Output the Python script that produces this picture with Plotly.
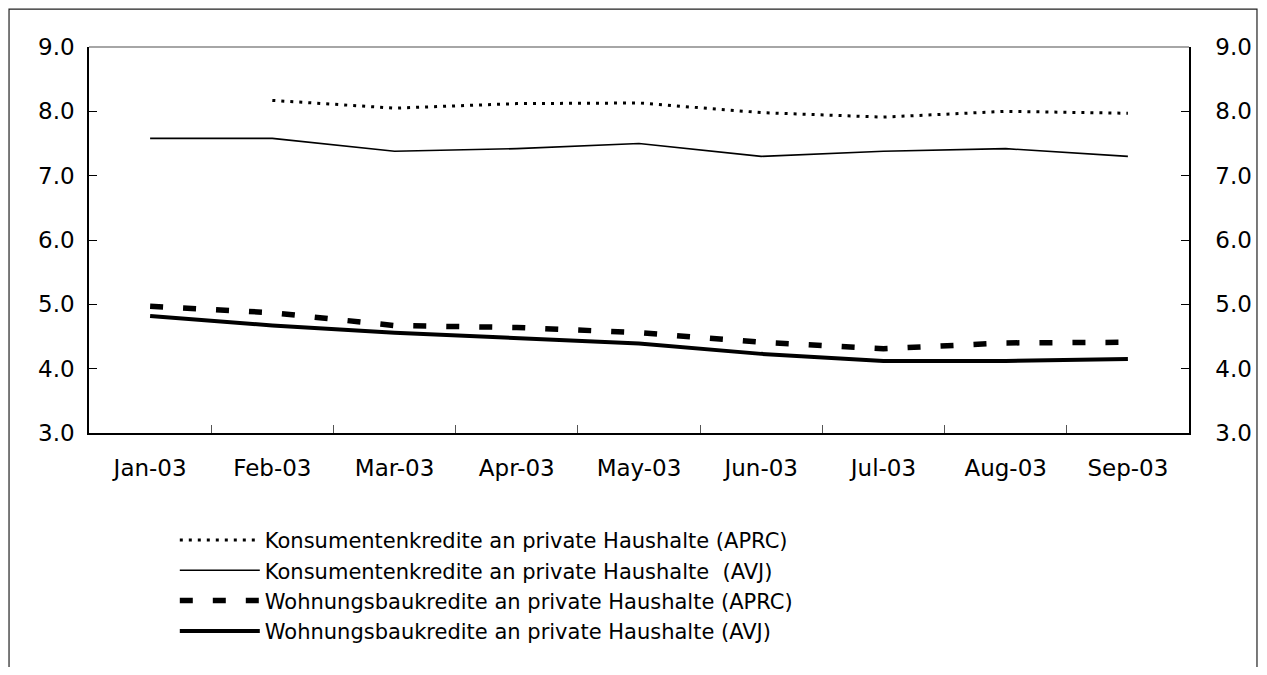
import plotly.graph_objects as go

months = ["Jan-03", "Feb-03", "Mar-03", "Apr-03", "May-03", "Jun-03", "Jul-03", "Aug-03", "Sep-03"]
konsum_aprc = [None, 8.17, 8.05, 8.12, 8.13, 7.98, 7.91, 8.00, 7.97]
konsum_avj = [7.58, 7.58, 7.38, 7.42, 7.50, 7.30, 7.38, 7.42, 7.30]
wohn_aprc = [4.97, 4.87, 4.67, 4.64, 4.56, 4.41, 4.31, 4.40, 4.41]
wohn_avj = [4.82, 4.67, 4.56, 4.47, 4.39, 4.23, 4.12, 4.12, 4.15]
names = [
    "Konsumentenkredite an private Haushalte (APRC)",
    "Konsumentenkredite an private Haushalte  (AVJ)",
    "Wohnungsbaukredite an private Haushalte (APRC)",
    "Wohnungsbaukredite an private Haushalte (AVJ)",
]
y_ticks = [3, 4, 5, 6, 7, 8, 9]

FONT = "DejaVu Sans"
fig = go.Figure()
fig.add_trace(go.Scatter(x=months, y=konsum_aprc, name=names[0], mode="lines",
                         line=dict(color="black", width=3, dash="3px,6px")))
fig.add_trace(go.Scatter(x=months, y=konsum_avj, name=names[1], mode="lines",
                         line=dict(color="black", width=1.6)))
fig.add_trace(go.Scatter(x=months, y=wohn_aprc, name=names[2], mode="lines",
                         line=dict(color="black", width=5.5, dash="13px,20px")))
fig.add_trace(go.Scatter(x=months, y=wohn_avj, name=names[3], mode="lines",
                         line=dict(color="black", width=4)))
# invisible trace for the right axis
fig.add_trace(go.Scatter(x=months, y=wohn_avj, yaxis="y2", showlegend=False,
                         mode="lines", line=dict(width=0), hoverinfo="skip", opacity=0))

fig.update_layout(
    width=1251, height=659,
    margin=dict(l=81, r=70, t=39, b=234, autoexpand=False),
    paper_bgcolor="white", plot_bgcolor="white",
    font=dict(family=FONT, size=23, color="black"),
    showlegend=True,
    legend=dict(x=0.078, y=-0.225, xanchor="left", yanchor="top",
                font=dict(size=21), itemwidth=80, bgcolor="rgba(0,0,0,0)",
                tracegroupgap=0),
    xaxis=dict(type="category", range=[-0.5, 8.5], showline=True, linecolor="black",
               linewidth=2, ticks="inside", tickson="boundaries", ticklen=8,
               tickcolor="#555", showgrid=False, ticklabelstandoff=13, zeroline=False,
               automargin=False),
    yaxis=dict(range=[3, 9], tickvals=y_ticks, tickformat=".1f", showline=True,
               linecolor="black", linewidth=1.5, ticks="inside", ticklen=8,
               tickcolor="black", showgrid=False, zeroline=False, ticklabelstandoff=8,
               automargin=False),
    yaxis2=dict(range=[3, 9], tickvals=y_ticks, tickformat=".1f", overlaying="y",
                side="right", showline=True, linecolor="black", linewidth=1.5,
                ticks="inside", ticklen=8, tickcolor="black", showgrid=False,
                zeroline=False, ticklabelstandoff=20, automargin=False),
    shapes=[
        dict(type="line", xref="paper", yref="paper", x0=0, x1=1, y0=1, y1=1,
             line=dict(color="#888", width=1.5)),
        dict(type="rect", xref="paper", yref="paper", x0=-0.0727, x1=1.0618,
             y0=-0.72, y1=1.098, line=dict(color="#222", width=1.2)),
    ],
)

fig.write_html("out.html")
